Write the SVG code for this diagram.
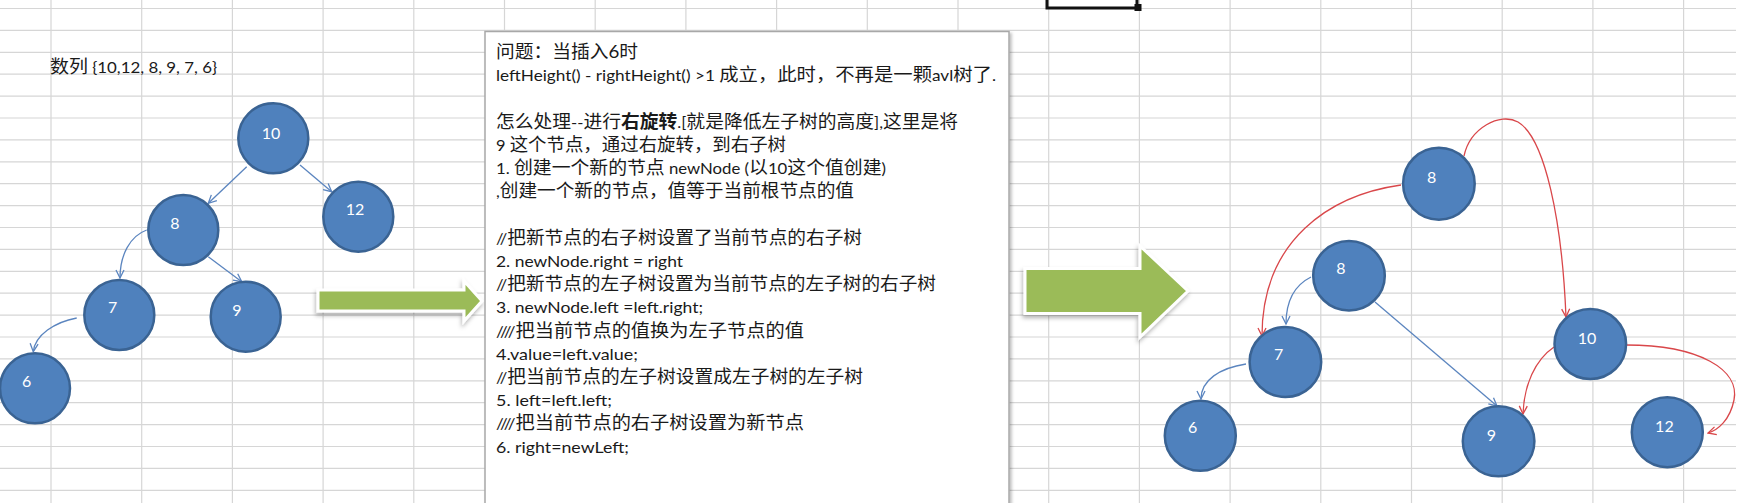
<svg xmlns="http://www.w3.org/2000/svg" width="1749" height="503" viewBox="0 0 1749 503">
<style>
.grid line{stroke:#d6d6d6;stroke-width:1.2}
.node circle,.node ellipse{fill:#4f81bd;stroke:#3a6393;stroke-width:2.5}
.node text{fill:#ffffff;font-family:"Lato","Open Sans",sans-serif;font-size:16px;text-anchor:middle}
.t{font-family:"Lato","Noto Sans CJK SC",sans-serif;font-size:18px;fill:#1a1a1a}
.l{font-size:16px}
.b{font-weight:bold}
.cb{fill:none;stroke:#5b85bf;stroke-width:1.3;marker-end:url(#ab)}
.cr{fill:none;stroke:#d9474a;stroke-width:1.3;marker-end:url(#ar)}
.big{fill:#9bbb59;stroke:#ffffff;stroke-width:3;filter:url(#sh)}
</style>
<defs>
<marker id="ab" viewBox="0 0 10 10" refX="9" refY="5" markerWidth="10" markerHeight="10" markerUnits="userSpaceOnUse" orient="auto"><path d="M1,1 L9,5 L1,9" fill="none" stroke="#5b85bf" stroke-width="1.3"/></marker>
<marker id="ar" viewBox="0 0 10 10" refX="9" refY="5" markerWidth="10" markerHeight="10" markerUnits="userSpaceOnUse" orient="auto"><path d="M1,1 L9,5 L1,9" fill="none" stroke="#d9474a" stroke-width="1.3"/></marker>
<filter id="sh" x="-20%" y="-30%" width="140%" height="160%"><feDropShadow dx="-1" dy="3" stdDeviation="2" flood-color="#000" flood-opacity="0.3"/></filter>
<filter id="bs" x="-5%" y="-5%" width="110%" height="110%"><feDropShadow dx="2" dy="2" stdDeviation="1.5" flood-color="#000" flood-opacity="0.25"/></filter>
</defs>
<rect width="1749" height="503" fill="#ffffff"/>
<g class="grid">
<line x1="51" y1="0" x2="51" y2="503"/><line x1="141.7" y1="0" x2="141.7" y2="503"/><line x1="232.4" y1="0" x2="232.4" y2="503"/><line x1="323.1" y1="0" x2="323.1" y2="503"/><line x1="413.8" y1="0" x2="413.8" y2="503"/><line x1="504.5" y1="0" x2="504.5" y2="503"/><line x1="595.2" y1="0" x2="595.2" y2="503"/><line x1="685.9" y1="0" x2="685.9" y2="503"/><line x1="776.6" y1="0" x2="776.6" y2="503"/><line x1="867.3" y1="0" x2="867.3" y2="503"/><line x1="958" y1="0" x2="958" y2="503"/><line x1="1048.7" y1="0" x2="1048.7" y2="503"/><line x1="1139.4" y1="0" x2="1139.4" y2="503"/><line x1="1230.1" y1="0" x2="1230.1" y2="503"/><line x1="1320.8" y1="0" x2="1320.8" y2="503"/><line x1="1411.5" y1="0" x2="1411.5" y2="503"/><line x1="1502.2" y1="0" x2="1502.2" y2="503"/><line x1="1592.9" y1="0" x2="1592.9" y2="503"/><line x1="1683.6" y1="0" x2="1683.6" y2="503"/>
<line x1="0" y1="8.5" x2="1736" y2="8.5"/><line x1="0" y1="30.4" x2="1736" y2="30.4"/><line x1="0" y1="52.3" x2="1736" y2="52.3"/><line x1="0" y1="74.2" x2="1736" y2="74.2"/><line x1="0" y1="96.1" x2="1736" y2="96.1"/><line x1="0" y1="118" x2="1736" y2="118"/><line x1="0" y1="139.9" x2="1736" y2="139.9"/><line x1="0" y1="161.8" x2="1736" y2="161.8"/><line x1="0" y1="183.7" x2="1736" y2="183.7"/><line x1="0" y1="205.6" x2="1736" y2="205.6"/><line x1="0" y1="227.5" x2="1736" y2="227.5"/><line x1="0" y1="249.4" x2="1736" y2="249.4"/><line x1="0" y1="271.3" x2="1736" y2="271.3"/><line x1="0" y1="293.2" x2="1736" y2="293.2"/><line x1="0" y1="315.1" x2="1736" y2="315.1"/><line x1="0" y1="337" x2="1736" y2="337"/><line x1="0" y1="358.9" x2="1736" y2="358.9"/><line x1="0" y1="380.8" x2="1736" y2="380.8"/><line x1="0" y1="402.7" x2="1736" y2="402.7"/><line x1="0" y1="424.6" x2="1736" y2="424.6"/><line x1="0" y1="446.5" x2="1736" y2="446.5"/><line x1="0" y1="468.4" x2="1736" y2="468.4"/><line x1="0" y1="490.3" x2="1736" y2="490.3"/>
</g>
<g id="selection">
<path d="M1047,0 V8 H1137 V0" fill="none" stroke="#111" stroke-width="3"/>
<rect x="1134.5" y="4" width="7" height="7" fill="#111"/>
</g>
<g id="label-array"><text class="t" x="50" y="73" font-size="17" textLength="167" lengthAdjust="spacingAndGlyphs">数列<tspan class="l"> {10,12, 8, 9, 7, 6}</tspan></text></g>
<g id="arrow1"><polygon class="big" points="318,290 464,290 464,281 482,301 464,321 464,311 318,311"/></g>
<g id="textbox">
<rect x="485" y="31.5" width="524" height="490" fill="#ffffff" stroke="#a8a8a8" stroke-width="1.5" filter="url(#bs)"/>
<text class="t" x="496" y="58.2" textLength="142" lengthAdjust="spacingAndGlyphs">问题：当插入6时</text>
<text class="t" x="496" y="81.4" textLength="500" lengthAdjust="spacingAndGlyphs"><tspan class="l">leftHeight() - rightHeight() &gt;1 </tspan>成立，此时，不再是一颗<tspan class="l">avl</tspan>树了<tspan class="l">.</tspan></text>
<text class="t" x="496" y="127.8" textLength="462" lengthAdjust="spacingAndGlyphs">怎么处理<tspan class="l">--</tspan>进行<tspan class="b">右旋转</tspan><tspan class="l">.[</tspan>就是降低左子树的高度<tspan class="l">],</tspan>这里是将</text>
<text class="t" x="496" y="151" textLength="290" lengthAdjust="spacingAndGlyphs"><tspan class="l">9 </tspan>这个节点，通过右旋转，到右子树</text>
<text class="t" x="496" y="174.2" textLength="390" lengthAdjust="spacingAndGlyphs"><tspan class="l">1. </tspan>创建一个新的节点<tspan class="l"> newNode (</tspan>以<tspan class="l">10</tspan>这个值创建<tspan class="l">)</tspan></text>
<text class="t" x="496" y="197.4" textLength="358" lengthAdjust="spacingAndGlyphs"><tspan class="l">,</tspan>创建一个新的节点，值等于当前根节点的值</text>
<text class="t" x="496" y="243.8" textLength="366" lengthAdjust="spacingAndGlyphs"><tspan class="l">//</tspan>把新节点的右子树设置了当前节点的右子树</text>
<text class="t l" x="496" y="267" textLength="187" lengthAdjust="spacingAndGlyphs">2. newNode.right = right</text>
<text class="t" x="496" y="290.2" textLength="440" lengthAdjust="spacingAndGlyphs"><tspan class="l">//</tspan>把新节点的左子树设置为当前节点的左子树的右子树</text>
<text class="t l" x="496" y="313.4" textLength="207" lengthAdjust="spacingAndGlyphs">3. newNode.left =left.right;</text>
<text class="t" x="496" y="336.6" textLength="308" lengthAdjust="spacingAndGlyphs"><tspan class="l">////</tspan>把当前节点的值换为左子节点的值</text>
<text class="t l" x="496" y="359.8" textLength="142" lengthAdjust="spacingAndGlyphs">4.value=left.value;</text>
<text class="t" x="496" y="383" textLength="367" lengthAdjust="spacingAndGlyphs"><tspan class="l">//</tspan>把当前节点的左子树设置成左子树的左子树</text>
<text class="t l" x="496" y="406.2" textLength="116" lengthAdjust="spacingAndGlyphs">5. left=left.left;</text>
<text class="t" x="496" y="429.4" textLength="308" lengthAdjust="spacingAndGlyphs"><tspan class="l">////</tspan>把当前节点的右子树设置为新节点</text>
<text class="t l" x="496" y="452.6" textLength="133" lengthAdjust="spacingAndGlyphs">6. right=newLeft;</text>
</g>
<g id="arrow2"><polygon class="big" points="1025,268.5 1140,268.5 1140,246 1188,291 1140,337 1140,313.5 1025,313.5"/></g>
<g id="connectors">
<path class="cb" d="M246.7,166.7 L208.3,203.3"/>
<path class="cb" d="M300,165 L331.7,191.7"/>
<path class="cb" d="M146.7,230 C130,236 120,255 120,278"/>
<path class="cb" d="M208.3,256.7 L241.7,281.7"/>
<path class="cb" d="M76.7,318 C55,322 35,335 33.3,351.7"/>
<path class="cr" d="M1464,156 C1470,128 1500,112 1518,122 C1545,138 1562,220 1566,317"/>
<path class="cr" d="M1401,185 C1330,195 1262,240 1262,336"/>
<path class="cr" d="M1554,347 C1535,360 1524,385 1523,414"/>
<path class="cr" d="M1626,345 C1700,345 1740,370 1734,400 C1730,420 1718,430 1708,433"/>
<path class="cb" d="M1311,277 C1295,285 1286,300 1286,324"/>
<path class="cb" d="M1375,302 L1497,406"/>
<path class="cb" d="M1246,364 C1220,368 1201,380 1201,399"/>
</g>
<g id="n10" class="node"><circle cx="273.3" cy="138.3" r="35"/><text x="271" y="138.7">10</text></g>
<g id="n12" class="node"><circle cx="358.3" cy="216.7" r="35"/><text x="355" y="214.5">12</text></g>
<g id="n8" class="node"><circle cx="183.3" cy="230" r="35"/><text x="175" y="228.5">8</text></g>
<g id="n7" class="node"><circle cx="119.3" cy="315" r="35"/><text x="112.7" y="312.5">7</text></g>
<g id="n9" class="node"><circle cx="245.7" cy="316.7" r="35"/><text x="237" y="315.5">9</text></g>
<g id="n6" class="node"><circle cx="35" cy="388.3" r="35"/><text x="26.7" y="386.5">6</text></g>
<g id="r8a" class="node"><ellipse cx="1438.9" cy="183.7" rx="35.8" ry="36"/><text x="1431.6" y="183.4">8</text></g>
<g id="r8b" class="node"><ellipse cx="1349" cy="275.7" rx="35.8" ry="34.7"/><text x="1340.8" y="274">8</text></g>
<g id="r7" class="node"><ellipse cx="1285.4" cy="362" rx="35.8" ry="35"/><text x="1278.7" y="359.5">7</text></g>
<g id="r6" class="node"><ellipse cx="1200.3" cy="435.8" rx="35.5" ry="35"/><text x="1192.6" y="433.4">6</text></g>
<g id="r9" class="node"><ellipse cx="1498.6" cy="441.3" rx="35.8" ry="35"/><text x="1491.4" y="441.1">9</text></g>
<g id="r10" class="node"><ellipse cx="1590.3" cy="344" rx="35.8" ry="35"/><text x="1587" y="343.8">10</text></g>
<g id="r12" class="node"><ellipse cx="1667.3" cy="432.2" rx="35.5" ry="35"/><text x="1664.4" y="432.3">12</text></g>
</svg>
